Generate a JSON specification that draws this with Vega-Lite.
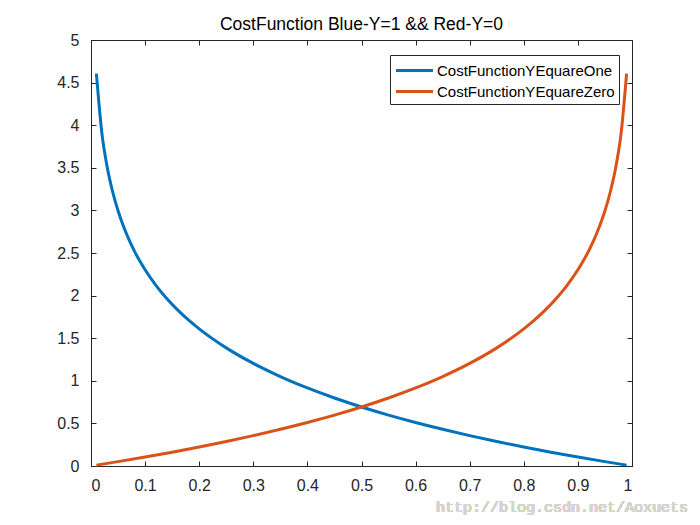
{
  "$schema": "https://vega.github.io/schema/vega-lite/v6.json",
  "width": 541,
  "height": 426,
  "autosize": "none",
  "padding": {"left": 91, "top": 40, "right": 68, "bottom": 59},
  "background": "white",
  "config": {
    "view": {"stroke": "#262626", "strokeWidth": 1},
    "font": "Liberation Sans",
    "axis": {"grid": false, "domainColor": "#262626", "tickColor": "#262626", "labelColor": "#262626", "labelFont": "Liberation Sans", "labelFontSize": 16, "tickSize": -5, "title": null},
    "axisX": {"labelPadding": 16},
    "axisY": {"labelPadding": 17}
  },
  "title": {"text": "CostFunction Blue-Y=1 && Red-Y=0", "font": "Liberation Sans", "fontSize": 17.5, "fontWeight": "normal", "color": "#000000", "offset": -1},
  "data": {"values": [
    {"x":0.01,"y":4.6052,"s":"CostFunctionYEquareOne"},
    {"x":0.02,"y":3.9120,"s":"CostFunctionYEquareOne"},
    {"x":0.03,"y":3.5066,"s":"CostFunctionYEquareOne"},
    {"x":0.04,"y":3.2189,"s":"CostFunctionYEquareOne"},
    {"x":0.05,"y":2.9957,"s":"CostFunctionYEquareOne"},
    {"x":0.06,"y":2.8134,"s":"CostFunctionYEquareOne"},
    {"x":0.07,"y":2.6593,"s":"CostFunctionYEquareOne"},
    {"x":0.08,"y":2.5257,"s":"CostFunctionYEquareOne"},
    {"x":0.09,"y":2.4079,"s":"CostFunctionYEquareOne"},
    {"x":0.10,"y":2.3026,"s":"CostFunctionYEquareOne"},
    {"x":0.12,"y":2.1203,"s":"CostFunctionYEquareOne"},
    {"x":0.14,"y":1.9661,"s":"CostFunctionYEquareOne"},
    {"x":0.16,"y":1.8326,"s":"CostFunctionYEquareOne"},
    {"x":0.18,"y":1.7148,"s":"CostFunctionYEquareOne"},
    {"x":0.20,"y":1.6094,"s":"CostFunctionYEquareOne"},
    {"x":0.25,"y":1.3863,"s":"CostFunctionYEquareOne"},
    {"x":0.30,"y":1.2040,"s":"CostFunctionYEquareOne"},
    {"x":0.35,"y":1.0498,"s":"CostFunctionYEquareOne"},
    {"x":0.40,"y":0.9163,"s":"CostFunctionYEquareOne"},
    {"x":0.45,"y":0.7985,"s":"CostFunctionYEquareOne"},
    {"x":0.50,"y":0.6931,"s":"CostFunctionYEquareOne"},
    {"x":0.55,"y":0.5978,"s":"CostFunctionYEquareOne"},
    {"x":0.60,"y":0.5108,"s":"CostFunctionYEquareOne"},
    {"x":0.65,"y":0.4308,"s":"CostFunctionYEquareOne"},
    {"x":0.70,"y":0.3567,"s":"CostFunctionYEquareOne"},
    {"x":0.75,"y":0.2877,"s":"CostFunctionYEquareOne"},
    {"x":0.80,"y":0.2231,"s":"CostFunctionYEquareOne"},
    {"x":0.85,"y":0.1625,"s":"CostFunctionYEquareOne"},
    {"x":0.90,"y":0.1054,"s":"CostFunctionYEquareOne"},
    {"x":0.95,"y":0.0513,"s":"CostFunctionYEquareOne"},
    {"x":0.99,"y":0.0101,"s":"CostFunctionYEquareOne"},
    {"x":0.01,"y":0.0101,"s":"CostFunctionYEquareZero"},
    {"x":0.05,"y":0.0513,"s":"CostFunctionYEquareZero"},
    {"x":0.10,"y":0.1054,"s":"CostFunctionYEquareZero"},
    {"x":0.15,"y":0.1625,"s":"CostFunctionYEquareZero"},
    {"x":0.20,"y":0.2231,"s":"CostFunctionYEquareZero"},
    {"x":0.25,"y":0.2877,"s":"CostFunctionYEquareZero"},
    {"x":0.30,"y":0.3567,"s":"CostFunctionYEquareZero"},
    {"x":0.35,"y":0.4308,"s":"CostFunctionYEquareZero"},
    {"x":0.40,"y":0.5108,"s":"CostFunctionYEquareZero"},
    {"x":0.45,"y":0.5978,"s":"CostFunctionYEquareZero"},
    {"x":0.50,"y":0.6931,"s":"CostFunctionYEquareZero"},
    {"x":0.55,"y":0.7985,"s":"CostFunctionYEquareZero"},
    {"x":0.60,"y":0.9163,"s":"CostFunctionYEquareZero"},
    {"x":0.65,"y":1.0498,"s":"CostFunctionYEquareZero"},
    {"x":0.70,"y":1.2040,"s":"CostFunctionYEquareZero"},
    {"x":0.75,"y":1.3863,"s":"CostFunctionYEquareZero"},
    {"x":0.80,"y":1.6094,"s":"CostFunctionYEquareZero"},
    {"x":0.82,"y":1.7148,"s":"CostFunctionYEquareZero"},
    {"x":0.84,"y":1.8326,"s":"CostFunctionYEquareZero"},
    {"x":0.86,"y":1.9661,"s":"CostFunctionYEquareZero"},
    {"x":0.88,"y":2.1203,"s":"CostFunctionYEquareZero"},
    {"x":0.90,"y":2.3026,"s":"CostFunctionYEquareZero"},
    {"x":0.91,"y":2.4079,"s":"CostFunctionYEquareZero"},
    {"x":0.92,"y":2.5257,"s":"CostFunctionYEquareZero"},
    {"x":0.93,"y":2.6593,"s":"CostFunctionYEquareZero"},
    {"x":0.94,"y":2.8134,"s":"CostFunctionYEquareZero"},
    {"x":0.95,"y":2.9957,"s":"CostFunctionYEquareZero"},
    {"x":0.96,"y":3.2189,"s":"CostFunctionYEquareZero"},
    {"x":0.97,"y":3.5066,"s":"CostFunctionYEquareZero"},
    {"x":0.98,"y":3.9120,"s":"CostFunctionYEquareZero"},
    {"x":0.99,"y":4.6052,"s":"CostFunctionYEquareZero"}
  ]},
  "layer": [
    {
      "mark": {"type": "line", "strokeWidth": 3, "interpolate": "monotone"},
      "encoding": {
        "x": {"field": "x", "type": "quantitative", "scale": {"domain": [0, 1], "nice": false}, "axis": {"orient": "bottom", "values": [0,0.1,0.2,0.3,0.4,0.5,0.6,0.7,0.8,0.9,1], "format": "~g"}},
        "y": {"field": "y", "type": "quantitative", "scale": {"domain": [0, 5], "nice": false}, "axis": {"orient": "left", "values": [0,0.5,1,1.5,2,2.5,3,3.5,4,4.5,5], "format": "~g"}},
        "color": {"field": "s", "type": "nominal", "scale": {"domain": ["CostFunctionYEquareOne", "CostFunctionYEquareZero"], "range": ["#0072BD", "#D95319"]},
          "legend": {"title": null, "orient": "none", "legendX": 299, "legendY": 15, "direction": "vertical", "symbolType": "M-1.85,0H1.85", "symbolStrokeWidth": 3, "symbolSize": 400, "symbolOffset": 9, "labelFont": "Liberation Sans", "labelFontSize": 15, "labelLimit": 400, "labelColor": "#000000", "strokeColor": "#262626", "fillColor": "white", "padding": 4, "rowPadding": 1, "labelOffset": 11}}
      }
    },
    {
      "mark": {"type": "point", "opacity": 0},
      "encoding": {
        "x": {"field": "x", "type": "quantitative", "axis": {"orient": "top", "values": [0,0.1,0.2,0.3,0.4,0.5,0.6,0.7,0.8,0.9,1], "labels": false}},
        "y": {"field": "y", "type": "quantitative", "axis": {"orient": "right", "values": [0,0.5,1,1.5,2,2.5,3,3.5,4,4.5,5], "labels": false}}
      }
    },
    {
      "mark": {"type": "text", "text": "http://blog.csdn.net/Aoxuets", "align": "right", "baseline": "middle", "font": "Liberation Mono", "fontSize": 15, "color": "#d4d4cc", "clip": false},
      "encoding": {
        "x": {"datum": 1.1035, "axis": null},
        "y": {"datum": -0.48, "axis": null}
      }
    }
  ],
  "resolve": {"axis": {"x": "independent", "y": "independent"}}
}
